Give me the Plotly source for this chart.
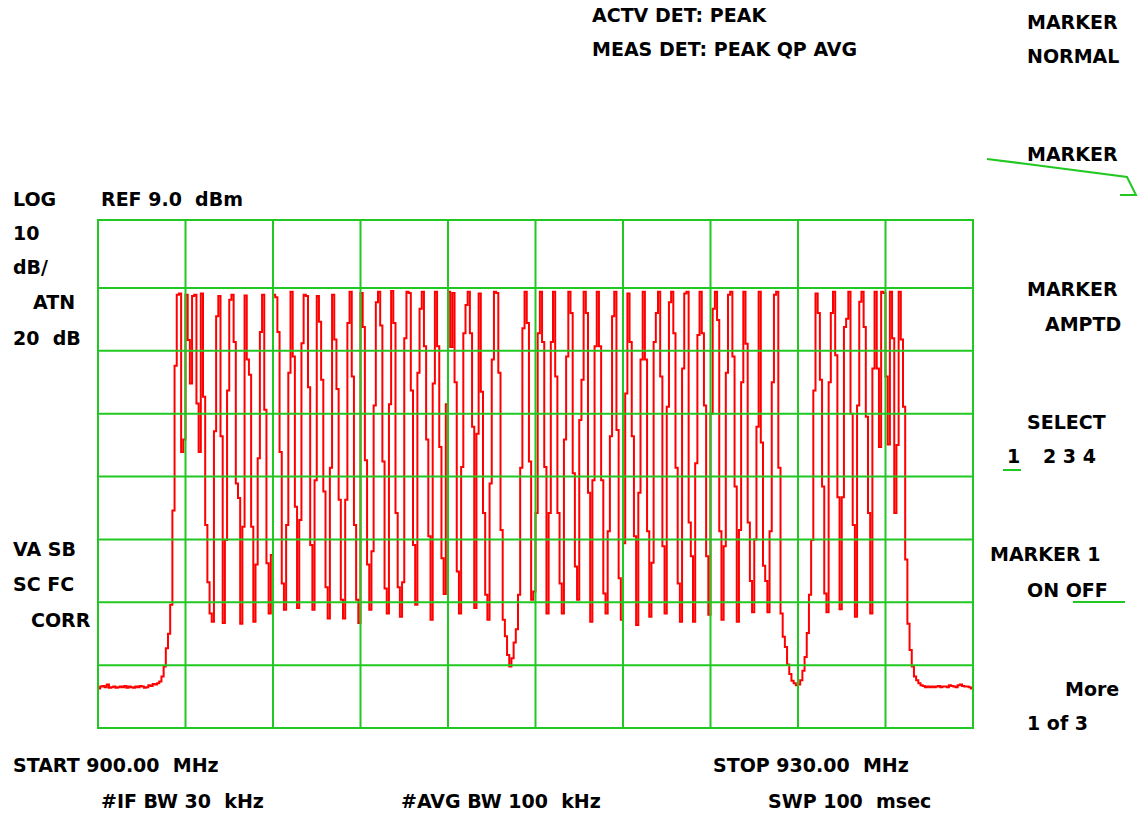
import numpy as np
import plotly.graph_objects as go

# Instrument settings
START_MHZ = 900.0
STOP_MHZ = 930.0
REF_DBM = 9.0
DB_PER_DIV = 10
N_DIV_X = 10
N_DIV_Y = 8

# Swept trace, one level per display point (dBm)
trace_dbm = [
    -64.7, -64.4, -64.3, -64.5, -64.1, -64.6, -64.5, -64.4, -64.6, -64.5,
    -64.4, -64.5, -64.3, -64.6, -64.4, -64.5, -64.6, -64.4, -64.5, -64.3,
    -64.4, -64.6, -64.5, -64.2, -64.3, -64.0, -64.1, -63.9, -63.6, -62.8,
    -61.2, -58.3, -56.0, -51.4, -36.4, -13.4, -2.1, -1.9, -27.1, -25.1,
    -2.1, -9.3, -16.2, -2.3, -2.1, -19.4, -27.1, -1.9, -18.3, -38.7,
    -47.8, -52.8, -54.1, -23.8, -5.5, -2.3, -24.6, -54.3, -41.1, -17.3,
    -2.9, -2.1, -9.6, -32.1, -34.4, -54.4, -39.0, -2.2, -12.4, -14.8,
    -39.0, -54.1, -45.0, -28.1, -8.0, -2.1, -20.4, -44.8, -52.8, -43.5,
    -2.1, -2.5, -8.0, -27.1, -48.0, -52.2, -38.7, -14.5, -1.6, -11.9,
    -35.8, -51.9, -37.9, -9.8, -2.1, -2.3, -16.8, -41.9, -52.2, -31.6,
    -2.3, -6.4, -15.6, -33.4, -48.6, -53.6, -29.6, -2.1, -9.2, -17.1,
    -34.7, -50.6, -53.6, -34.7, -6.6, -1.6, -15.1, -38.7, -50.6, -54.3,
    -1.8, -7.2, -28.4, -45.0, -52.2, -42.9, -19.7, -3.3, -1.6, -7.0,
    -28.6, -48.8, -52.8, -19.5, -1.5, -6.6, -36.8, -48.6, -53.3, -47.8,
    -9.0, -1.6, -1.8, -17.3, -41.9, -51.4, -14.5, -4.3, -1.6, -10.3,
    -25.1, -40.5, -53.8, -16.2, -1.6, -10.3, -26.3, -44.0, -49.7, -19.5,
    -1.6, -10.4, -1.8, -16.0, -46.1, -52.8, -29.5, -8.2, -3.7, -1.6,
    -8.2, -23.1, -51.9, -24.2, -1.9, -17.5, -36.8, -49.8, -53.8, -32.1,
    -12.4, -1.6, -1.8, -14.5, -39.5, -53.8, -56.4, -59.4, -61.2, -59.9,
    -57.4, -55.3, -49.8, -29.6, -7.4, -1.6, -6.6, -28.6, -50.6, -49.3,
    -36.8, -8.2, -1.6, -9.6, -29.5, -52.8, -36.8, -9.6, -1.6, -15.1,
    -36.8, -48.0, -52.8, -25.1, -11.9, -1.6, -5.0, -30.5, -45.3, -50.6,
    -22.0, -15.6, -1.6, -5.0, -33.6, -54.1, -31.6, -10.3, -1.6, -10.3,
    -31.6, -49.6, -52.8, -39.7, -24.6, -5.5, -1.6, -23.6, -47.2, -53.8,
    -41.6, -17.8, -1.9, -9.6, -24.6, -40.5, -54.6, -33.6, -12.4, -1.6,
    -12.4, -39.7, -53.3, -44.7, -9.6, -5.0, -1.6, -15.1, -42.1, -52.8,
    -19.9, -3.3, -1.6, -8.2, -29.6, -48.0, -54.1, -13.8, -1.9, -1.6,
    -38.3, -43.7, -54.1, -28.9, -8.5, -1.6, -8.2, -19.7, -43.7, -53.0,
    -21.0, -4.3, -1.6, -6.1, -39.7, -53.8, -42.1, -14.5, -2.1, -1.6,
    -11.9, -32.6, -54.1, -39.5, -16.0, -1.6, -9.9, -38.3, -47.6, -52.6,
    -41.0, -23.1, -1.6, -25.6, -45.2, -47.6, -52.6, -39.7, -16.0, -2.1,
    -1.6, -29.6, -52.8, -56.5, -58.1, -60.9, -62.4, -63.5, -63.9, -64.2,
    -64.1, -63.4, -61.9, -59.7, -55.9, -49.8, -41.1, -17.3, -1.9, -5.0,
    -15.6, -32.6, -49.6, -52.6, -16.0, -5.0, -1.6, -11.7, -34.3, -52.1,
    -34.3, -7.2, -5.9, -1.6, -21.0, -38.7, -53.3, -19.7, -3.2, -1.6,
    -7.2, -21.5, -36.8, -52.8, -13.8, -1.6, -13.8, -26.3, -1.6, -1.8,
    -15.1, -25.9, -1.6, -9.0, -36.8, -26.0, -1.6, -9.2, -19.9, -44.2,
    -54.4, -58.6, -61.2, -62.8, -63.4, -63.9, -64.2, -64.3, -64.5, -64.4,
    -64.5, -64.4, -64.5, -64.4, -64.3, -64.5, -64.4, -64.4, -64.5, -64.2,
    -64.3, -64.4, -64.5, -64.2, -64.1, -64.3, -64.4, -64.4, -64.5, -64.7,
    -64.4,
]

# Screen annotation texts
top_texts = ["ACTV DET: PEAK", "MEAS DET: PEAK QP AVG"]
left_texts = ["LOG", "REF 9.0  dBm", "10", "dB/", "ATN", "20  dB",
              "VA SB", "SC FC", "CORR"]
bottom_texts = ["START 900.00  MHz", "STOP 930.00  MHz",
                "#IF BW 30  kHz", "#AVG BW 100  kHz", "SWP 100  msec"]
softkey_texts = ["MARKER", "NORMAL", "MARKER", "MARKER", "AMPTD", "SELECT",
                 "1", "2 3 4", "MARKER 1", "ON OFF", "More", "1 of 3"]

W, H = 1139, 813
L, R, T, B = 98, 973, 220, 728   # graticule box in pixels

GRID = "#22c822"
TRACE = "#ff0000"

freq_mhz = np.linspace(START_MHZ, STOP_MHZ, len(trace_dbm))
bottom_dbm = REF_DBM - N_DIV_Y * DB_PER_DIV


def px(x):
    return (x - L) / (R - L)


def py(y):
    return (B - y) / (B - T)


fig = go.Figure()
fig.add_trace(go.Scatter(
    x=freq_mhz, y=trace_dbm, mode="lines",
    line=dict(color=TRACE, width=2, shape="hv"),
    hoverinfo="skip", showlegend=False,
))

shapes = []
# graticule: vertical divisions
for k in range(1, N_DIV_X):
    f = START_MHZ + k * (STOP_MHZ - START_MHZ) / N_DIV_X
    shapes.append(dict(type="line", xref="x", yref="paper", x0=f, x1=f,
                       y0=0, y1=1, layer="above",
                       line=dict(color=GRID, width=2)))
# graticule: horizontal divisions below the reference level
for k in range(1, N_DIV_Y):
    lvl = REF_DBM - k * DB_PER_DIV
    shapes.append(dict(type="line", xref="paper", yref="y", x0=0, x1=1,
                       y0=lvl, y1=lvl, layer="above",
                       line=dict(color=GRID, width=2)))
# frame
shapes.append(dict(type="rect", xref="paper", yref="paper", x0=0, x1=1,
                   y0=0, y1=1, layer="above",
                   line=dict(color=GRID, width=2)))


def poly(points):
    path = "M " + " L ".join(f"{px(x)},{py(y)}" for x, y in points)
    return dict(type="path", xref="paper", yref="paper", path=path,
                layer="above", line=dict(color=GRID, width=2))


# softkey pointer and selection underlines
shapes.append(poly([(987, 159), (1027, 164), (1127, 177), (1136, 195),
                    (1120, 195)]))
shapes.append(poly([(1003, 470), (1021, 470)]))
shapes.append(poly([(1073, 602), (1125, 602)]))

FONT = dict(family="DejaVu Sans", size=19, color="black", weight="bold")


def label(text, x, y, anchor="left"):
    return dict(text=text, x=px(x), y=py(y), xref="paper", yref="paper",
                xanchor=anchor, yanchor="middle", showarrow=False,
                font=FONT)


annotations = []
for text, (x, y) in zip(top_texts, [(590, 15), (590, 49)]):
    annotations.append(label(text, x, y))
left_pos = [(11, 199), (99, 199), (11, 233), (11, 267), (31, 302),
            (11, 338), (11, 549), (11, 584), (29, 620)]
for text, (x, y) in zip(left_texts, left_pos):
    annotations.append(label(text, x, y))
bottom_pos = [(11, 765), (711, 765), (99, 801), (399, 801), (766, 801)]
for text, (x, y) in zip(bottom_texts, bottom_pos):
    annotations.append(label(text, x, y))
soft_pos = [(1025, 22), (1025, 56), (1025, 154), (1025, 289), (1043, 324),
            (1025, 422), (1005, 456), (1041, 456), (988, 554),
            (1025, 590), (1063, 689), (1025, 723)]
for text, (x, y) in zip(softkey_texts, soft_pos):
    annotations.append(label(text, x, y))

fig.update_layout(
    width=W, height=H, autosize=False,
    margin=dict(l=L, r=W - R, t=T, b=H - B, pad=0),
    paper_bgcolor="white", plot_bgcolor="white",
    xaxis=dict(range=[START_MHZ, STOP_MHZ], showgrid=False, zeroline=False,
               showticklabels=False, ticks="", fixedrange=True),
    yaxis=dict(range=[bottom_dbm, REF_DBM + 0.8], showgrid=False,
               zeroline=False, showticklabels=False, ticks="",
               fixedrange=True),
    shapes=shapes,
    annotations=annotations,
    showlegend=False,
)

fig.write_html("out.html")
